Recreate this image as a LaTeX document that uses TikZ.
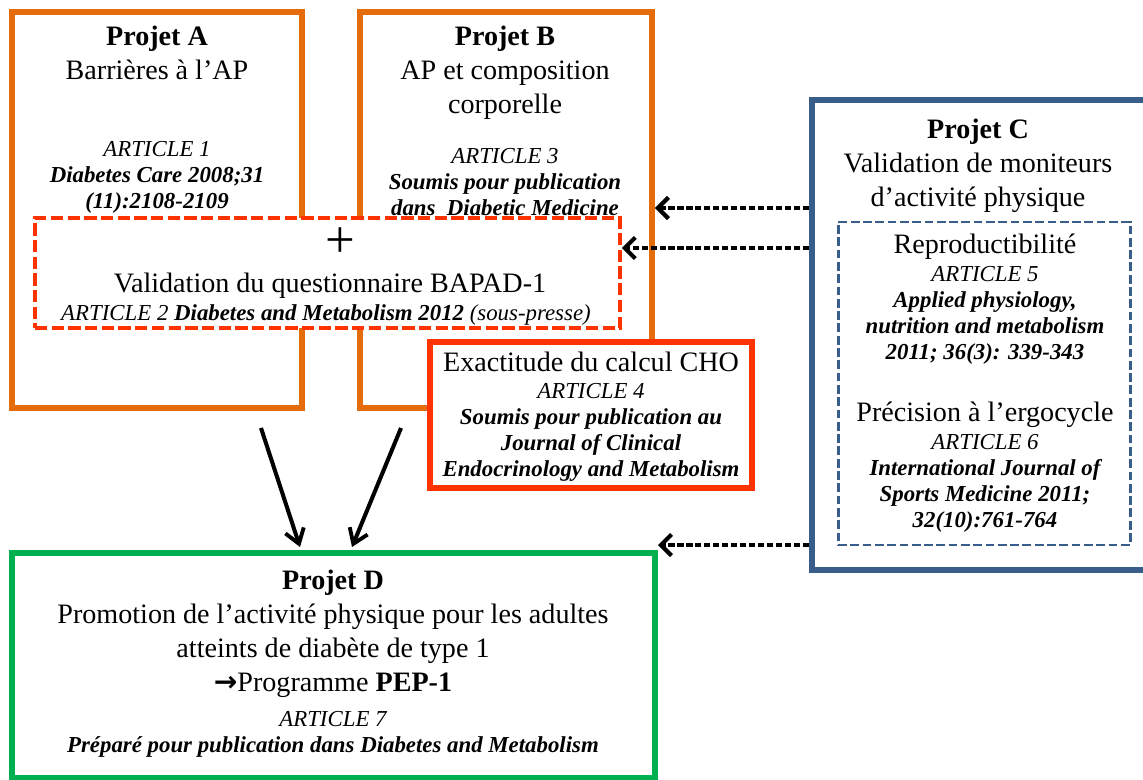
\documentclass[tikz,border=0pt]{standalone}
\usepackage{fontspec}
\setmainfont{Liberation Serif}
\newfontfamily\arrowfont{DejaVu Sans}
\usetikzlibrary{arrows.meta,fit,calc}
\definecolor{orng}{HTML}{E46C0A}
\definecolor{redo}{HTML}{FF3300}
\definecolor{bluc}{HTML}{385D8A}
\definecolor{grn}{HTML}{00B050}
\tikzset{
  frame/.style={draw, line width=3.4pt, inner sep=0pt, fill=white},
  orbox/.style={frame, draw=orng},
  big/.style={font=\fontsize{16}{19.3}\selectfont, align=center, inner sep=0pt},
  small/.style={font=\fontsize{13}{14.8}\selectfont\itshape, align=center, inner sep=0pt},
  dotarr/.style={line width=2.4pt, dash pattern=on 3.5pt off 1.6pt, -{Straight Barb[length=6pt,width=12pt,line width=2.4pt]}},
  solarr/.style={line width=2.3pt, -{Straight Barb[length=8pt,width=11pt,line width=2.2pt]}}
}
\begin{document}
\begin{tikzpicture}[x=0.02cm,y=-0.02cm]
\useasboundingbox (0,0) rectangle (1143,780);
\clip (0,0) rectangle (1143,780);
% boxes
\node[orbox, fit={(12,12) (302,408)}] (A) {};
\node[orbox, fit={(360,12) (652,408)}] (B) {};
\node[draw=redo, fill=white, line width=2pt, dash pattern=on 7pt off 2.5pt, inner sep=0pt, fit={(35,218) (620,328)}] (V) {};
\node[frame, draw=redo, fit={(430,342) (752,488)}] (H) {};
\node[frame, draw=bluc, fit={(812,100) (1160,570)}] (C) {};
\node[draw=bluc, line width=1.7pt, dash pattern=on 5pt off 2pt, inner sep=0pt, fit={(838,222) (1130,545)}] (CI) {};
\node[frame, draw=grn, fit={(12,553) (655,778)}] (D) {};
% Projet A
\node[big, anchor=north] (tA) at (157,26) {\textbf{Projet A}\\Barrières à l’AP};
\node[small, anchor=north] (aA) at (157,141) {ARTICLE 1\\\textbf{Diabetes Care 2008;31}\\\textbf{(11):2108-2109}};
% Projet B
\node[big, anchor=north] (tB) at (505,26) {\textbf{Projet B}\\AP et composition\\corporelle};
\node[small, anchor=north] (aB) at (505,148) {ARTICLE 3\\\textbf{Soumis pour publication}\\\textbf{dans\ \ Diabetic Medicine}};
% validation
\node[inner sep=0pt, font=\fontsize{30}{30}\selectfont] (plus) at (340,243) {+};
\node[big, anchor=north] (tV) at (330,273) {Validation du questionnaire BAPAD-1};
\node[small, anchor=north] (aV) at (326,304) {ARTICLE 2 \textbf{Diabetes and Metabolism 2012} (sous-presse)};
% CHO
\node[big, anchor=north] (tH) at (591,352) {Exactitude du calcul CHO};
\node[small, anchor=north] (aH) at (591,383) {ARTICLE 4\\\textbf{Soumis pour publication au}\\\textbf{Journal of Clinical}\\\textbf{Endocrinology and Metabolism}};
% Projet C
\node[big, anchor=north] (tC) at (978,119) {\textbf{Projet C}\\Validation de moniteurs\\d’activité physique};
\node[big, anchor=north] (tR) at (985,234) {Reproductibilité};
\node[small, anchor=north] (aR) at (985,266) {ARTICLE 5\\\textbf{Applied physiology,}\\\textbf{nutrition and metabolism}\\\textbf{2011; 36(3): 339-343}};
\node[big, anchor=north] (tP) at (985,402) {Précision à l’ergocycle};
\node[small, anchor=north] (aP) at (985,434) {ARTICLE 6\\\textbf{International Journal of}\\\textbf{Sports Medicine 2011;}\\\textbf{32(10):761-764}};
% Projet D
\node[big, anchor=north] (tD) at (333,570) {\textbf{Projet D}\\Promotion de l’activité physique pour les adultes\\atteints de diabète de type 1\\{\arrowfont\bfseries →}Programme \textbf{PEP-1}};
\node[small, anchor=north] (aD) at (333,711) {ARTICLE 7\\\textbf{Préparé pour publication dans Diabetes and Metabolism}};
% connectors
\coordinate (dTip) at ($(D.north east)+(0,-5)$);
\draw[dotarr] (C.west |- 0,208) -- (B.east |- 0,208);
\draw[dotarr] (C.west |- 0,248) -- (V.east |- 0,248);
\draw[dotarr] (C.west |- dTip) -- (dTip);
\draw[solarr] ($(A.south east)+(-44,17)$) -- ($(D.north west)+(291,-3)$);
\draw[solarr] ($(B.south west)+(44,17)$) -- ($(D.north west)+(343,-3)$);
\end{tikzpicture}
\end{document}
